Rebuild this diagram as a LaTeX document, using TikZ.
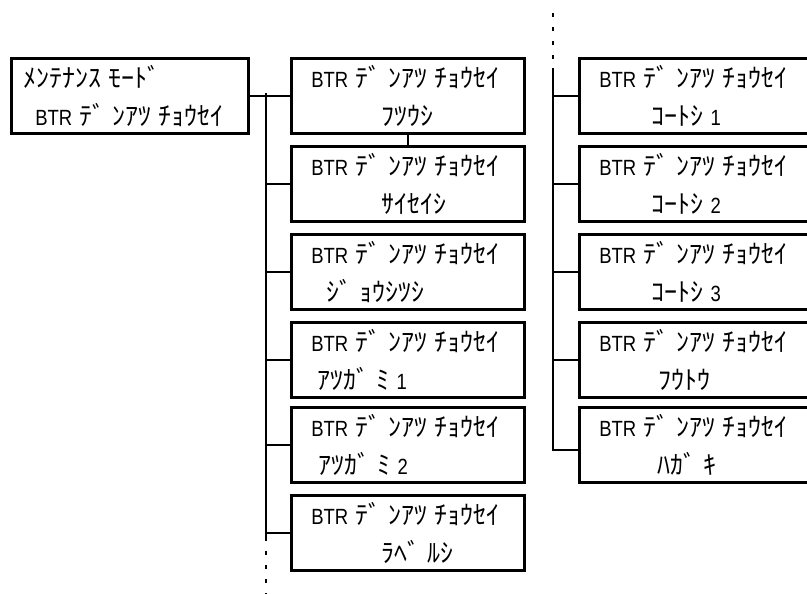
\documentclass[tikz,border=0pt]{standalone}
\usepackage{fontspec}
\setmainfont{Liberation Sans}[FakeStretch=0.84,WordSpace=2.5]
\newfontfamily\kana{Noto Sans CJK JP}[Scale=1.18,WordSpace=2.2]
\usetikzlibrary{positioning}
% wider cell after the half-width voicing marks
\XeTeXinterchartokenstate=1
\newXeTeXintercharclass\dakuclass
\XeTeXcharclass`ﾞ=\dakuclass
\XeTeXcharclass`ﾟ=\dakuclass
\XeTeXinterchartoks\dakuclass 0={\kern7pt}

\tikzset{
  menubox/.style={draw,line width=2.6pt,rectangle,minimum height=73pt,
    inner xsep=0pt,inner ysep=0pt,text width=233pt,align=left,
    anchor=north west,font=\fontsize{22}{38}\selectfont,
    execute at begin node={\rule{0pt}{29pt}\hspace*{#1}},
    execute at end node={\rule[-8pt]{0pt}{0pt}}},
  menubox/.default=20pt,
  tree/.style={line width=2pt},
  treedash/.style={line width=2pt,dash pattern=on 4pt off 10pt}
}

\begin{document}
\begin{tikzpicture}[x=1pt,y=-1pt]
  \useasboundingbox (0,0) rectangle (807,594);
  % mode box
  \node[menubox=12pt,text width=237pt] (mode) at (10,57)
    {{\kana ﾒﾝﾃﾅﾝｽ ﾓｰﾄﾞ}\\\hspace*{24pt}BTR {\kana ﾃﾞﾝｱﾂ ﾁｮｳｾｲ}};
  % middle column
  \foreach \i/\y/\ind/\sub in {
    1/57/90/{\kana ﾌﾂｳｼ},
    2/145/90/{\kana ｻｲｾｲｼ},
    3/233/35/{\kana ｼﾞｮｳｼﾂｼ},
    4/321/26/{{\kana ｱﾂｶﾞﾐ }1},
    5/406/27/{{\kana ｱﾂｶﾞﾐ }2},
    6/494/90/{\kana ﾗﾍﾞﾙｼ}%
  }{
    \node[menubox] (m\i) at (290,\y)
      {BTR {\kana ﾃﾞﾝｱﾂ ﾁｮｳｾｲ}\\\hspace*{\ind pt}\sub};
  }
  % right column
  \foreach \i/\y/\ind/\sub in {
    1/57/72/{{\kana ｺｰﾄｼ }1},
    2/145/72/{{\kana ｺｰﾄｼ }2},
    3/233/72/{{\kana ｺｰﾄｼ }3},
    4/321/79/{\kana ﾌｳﾄｳ},
    5/406/78/{\kana ﾊｶﾞｷ}%
  }{
    \node[menubox] (r\i) at (578,\y)
      {BTR {\kana ﾃﾞﾝｱﾂ ﾁｮｳｾｲ}\\\hspace*{\ind pt}\sub};
  }
  % left tree
  \coordinate (ltop) at (266,93.5);
  \coordinate (lsolid) at (266,541);
  \coordinate (ldash) at (266,551);
  \coordinate (lend) at (266,594);
  \draw[tree] (mode.east) -- (m1.west);
  \draw[tree] (ltop) -- (lsolid);
  \draw[treedash] (ldash) -- (lend);
  \foreach \i in {2,...,6}
    \draw[tree] (m\i.west) -- (m\i.west -| ltop);
  \draw[tree] (m1.south) -- (m2.north);
  % right tree
  \coordinate (rdash) at (553,13);
  \coordinate (rtop) at (553,68);
  \coordinate (rbot) at (553,450);
  \draw[treedash] (rdash) -- (rtop);
  \draw[tree] (rtop) -- (rbot) -- (rbot -| r5.west);
  \foreach \i in {1,...,4}
    \draw[tree] (r\i.west) -- (r\i.west -| rtop);
\end{tikzpicture}
\end{document}
